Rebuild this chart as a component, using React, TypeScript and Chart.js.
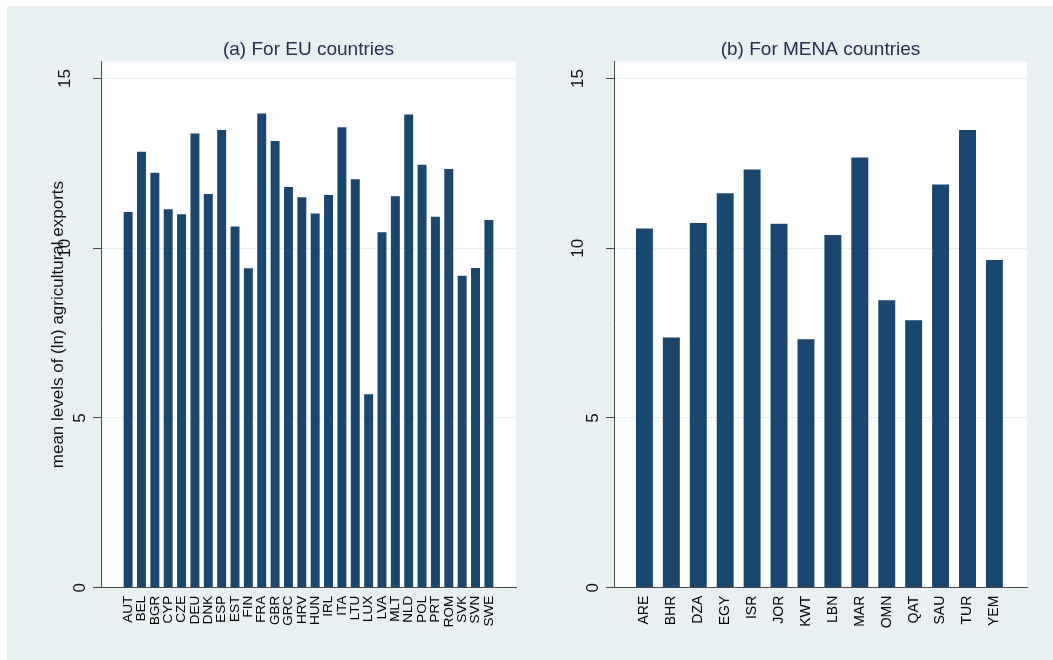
import React, { useEffect, useRef } from 'react';
import { Chart, registerables } from 'chart.js';

Chart.register(...registerables);

const FONT = '"Liberation Sans", Arial, Helvetica, sans-serif';

const euCountries = ['AUT', 'BEL', 'BGR', 'CYP', 'CZE', 'DEU', 'DNK', 'ESP', 'EST', 'FIN', 'FRA', 'GBR', 'GRC', 'HRV', 'HUN', 'IRL', 'ITA', 'LTU', 'LUX', 'LVA', 'MLT', 'NLD', 'POL', 'PRT', 'ROM', 'SVK', 'SVN', 'SWE'];
const euValues = [11.07, 12.84, 12.22, 11.15, 11.0, 13.38, 11.6, 13.48, 10.64, 9.41, 13.97, 13.16, 11.8, 11.5, 11.02, 11.57, 13.56, 12.03, 5.7, 10.47, 11.53, 13.94, 12.46, 10.93, 12.33, 9.19, 9.42, 10.83];

const menaCountries = ['ARE', 'BHR', 'DZA', 'EGY', 'ISR', 'JOR', 'KWT', 'LBN', 'MAR', 'OMN', 'QAT', 'SAU', 'TUR', 'YEM'];
const menaValues = [10.58, 7.37, 10.74, 11.62, 12.32, 10.72, 7.32, 10.39, 12.67, 8.47, 7.88, 11.88, 13.48, 9.65];

const yTicks = [0, 5, 10, 15];
const panelTitles = ['(a) For EU countries', '(b) For MENA countries'];
const yAxisTitle = 'mean levels of (ln) agricultural exports';

const plotBg = {
  id: 'plotBg',
  beforeDraw(chart: any) {
    const { ctx, chartArea: a } = chart;
    ctx.save();
    ctx.fillStyle = '#ffffff';
    ctx.fillRect(a.left, a.top, a.right - a.left, a.bottom - a.top);
    ctx.restore();
  },
};

const stataYLabels = {
  id: 'stataYLabels',
  afterDraw(chart: any) {
    const s = chart.scales.y;
    const ctx = chart.ctx;
    ctx.save();
    ctx.font = `17px ${FONT}`;
    ctx.fillStyle = '#111111';
    ctx.textAlign = 'center';
    ctx.textBaseline = 'alphabetic';
    for (const t of s.ticks) {
      const label = String(t.value);
      const y = s.getPixelForValue(t.value);
      const x = s.right - 16.5 - (label.length - 1) * 15;
      ctx.save();
      ctx.translate(x, y);
      ctx.rotate(-Math.PI / 2);
      ctx.fillText(label, 0, 0);
      ctx.restore();
    }
    ctx.restore();
  },
};

type PanelProps = {
  labels: string[];
  values: number[];
  title: string;
  yTitle?: string;
  xMin: number;
  xMax: number;
  barPct: number;
  xFont: number;
  axisWidth: number;
  padRight: number;
  left: number;
};

function Panel(p: PanelProps) {
  const ref = useRef<HTMLCanvasElement | null>(null);
  useEffect(() => {
    if (!ref.current) return;
    const chart = new Chart(ref.current, {
      type: 'bar',
      data: {
        datasets: [
          {
            data: p.values.map((v, i) => ({ x: i, y: v })),
            backgroundColor: '#1a476f',
            borderWidth: 0,
            barPercentage: p.barPct,
            categoryPercentage: 1,
          } as any,
        ],
      },
      options: {
        animation: false,
        responsive: false,
        maintainAspectRatio: false,
        layout: { padding: { left: 0, right: p.padRight, top: 0, bottom: 0 } },
        plugins: {
          legend: { display: false },
          tooltip: { enabled: false },
          title: {
            display: true,
            text: p.title,
            fullSize: false,
            color: '#22304f',
            font: { size: 19, weight: 'normal', family: FONT },
            padding: { top: 31.9, bottom: 0.8 },
          },
        },
        scales: {
          x: {
            type: 'linear',
            min: p.xMin,
            max: p.xMax,
            offset: false,
            grid: { display: false, drawTicks: false, offset: false },
            border: { display: true, color: '#4a4a4a', width: 1 },
            afterBuildTicks: (s: any) => {
              s.ticks = p.labels.map((_, i) => ({ value: i }));
            },
            afterFit: (s: any) => {
              s.height = 72.3;
            },
            ticks: {
              autoSkip: false,
              minRotation: 90,
              maxRotation: 90,
              padding: 8,
              color: '#000000',
              font: { size: p.xFont, family: FONT },
              callback: (v: any) => p.labels[Math.round(Number(v))] ?? '',
            },
          },
          y: {
            type: 'linear',
            min: 0,
            max: 15.5,
            afterBuildTicks: (s: any) => {
              s.ticks = yTicks.map((v) => ({ value: v }));
            },
            afterFit: (s: any) => {
              s.width = p.axisWidth;
            },
            grid: {
              display: true,
              color: '#e6eef1',
              lineWidth: 1,
              drawTicks: true,
              tickLength: 8,
              tickColor: '#4a4a4a',
              tickWidth: 1,
            },
            border: { display: true, color: '#4a4a4a', width: 1 },
            ticks: { display: false },
            title: p.yTitle
              ? {
                  display: true,
                  text: p.yTitle,
                  color: '#111111',
                  font: { size: 17, family: FONT },
                  padding: { top: 41, bottom: 0 },
                }
              : { display: false },
          },
        },
      } as any,
      plugins: [plotBg, stataYLabels],
    });
    return () => chart.destroy();
  }, []);
  return (
    <canvas
      ref={ref}
      width={523}
      height={654}
      style={{ position: 'absolute', left: p.left, top: 0, width: 523, height: 654, display: 'block' }}
    />
  );
}

export default function App() {
  return (
    <div
      style={{
        position: 'absolute',
        left: 7,
        top: 6,
        width: 1046,
        height: 654,
        background: '#e8f0f2',
        overflow: 'hidden',
      }}
    >
      <Panel
        labels={euCountries}
        values={euValues}
        title={panelTitles[0]}
        yTitle={yAxisTitle}
        xMin={-2.03}
        xMax={29.03}
        barPct={0.67}
        xFont={13.5}
        axisWidth={94}
        padRight={14}
        left={0}
      />
      <Panel
        labels={menaCountries}
        values={menaValues}
        title={panelTitles[1]}
        xMin={-1.13}
        xMax={14.21}
        barPct={0.63}
        xFont={14}
        axisWidth={84}
        padRight={26}
        left={523}
      />
    </div>
  );
}
